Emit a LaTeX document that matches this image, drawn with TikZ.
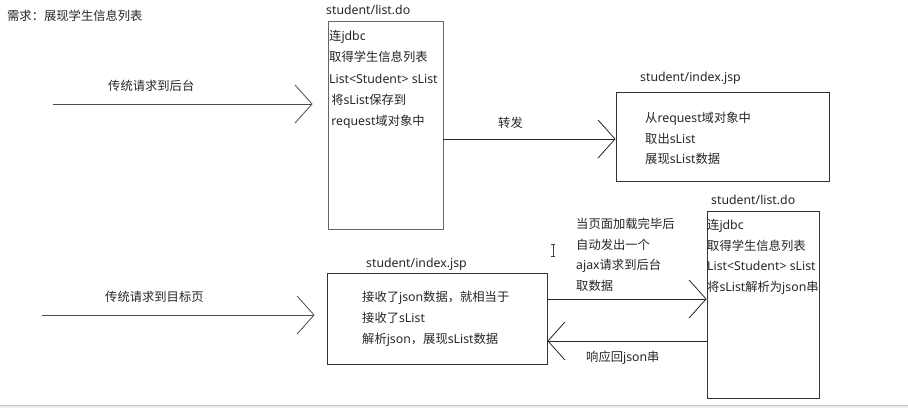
\documentclass[tikz,border=0pt]{standalone}
\usepackage{fontspec}
\setmainfont{Noto Sans CJK SC}
\newfontfamily\lat{Noto Sans}
\usetikzlibrary{arrows.meta}
\tikzset{
  x=1pt, y=-1pt,
  txt/.style={anchor=base west, inner sep=0pt, text=black!85,
    font=\fontsize{12.3}{15}\selectfont},
  box/.style={draw=black!80, line width=0.8pt, inner sep=0pt},
  arr/.style={draw=black!85, line width=0.8pt,
    -{Straight Barb[length=17pt,width=38pt]}},
}
\newcommand{\lt}[1]{{\lat #1}}
\begin{document}
\begin{tikzpicture}
\useasboundingbox (0,0) rectangle (908,408);
\fill[white] (0,0) rectangle (908,408);
\fill[black!6] (0,405) rectangle (908,408);
\draw[black!25, line width=0.8pt] (0,405) -- (908,405);

% title
\node[txt] (title) at (7,20.5) {需求：展现学生信息列表};

% boxes
\node[box, draw=black!60, minimum width=115pt, minimum height=208pt] (srvA) at (385.5,125) {};
\node[box, minimum width=213pt, minimum height=89pt] (jspB) at (722.5,136.5) {};
\node[box, minimum width=112pt, minimum height=187pt] (srvC) at (763,304.5) {};
\node[box, minimum width=220pt, minimum height=91pt] (jspD) at (437,318.5) {};

% box titles
\node[txt] (tA) at (326,14.5) {\lt{student/list.do}};
\node[txt] (tB) at (640,81.5) {\lt{student/index.jsp}};
\node[txt] (tC) at (711,204.5) {\lt{student/list.do}};
\node[txt] (tD) at (366,267.5) {\lt{student/index.jsp}};

% box contents
\foreach \t [count=\i] in {{连\lt{jdbc}}, {取得学生信息列表}, {\lt{List<Student> sList}}, {\,将\lt{sList}保存到}, {\,\lt{request}域对象中}}
  \node[txt] (a\i) at (329, 40.5+21.25*\i-21.25) {\t};
\foreach \t [count=\i] in {{从\lt{request}域对象中}, {取出\lt{sList}}, {展现\lt{sList}数据}}
  \node[txt] (b\i) at (645, 122.5+20.5*\i-20.5) {\t};
\foreach \t [count=\i] in {{连\lt{jdbc}}, {取得学生信息列表}, {\lt{List<Student> sList}}, {将\lt{sList}解析为\lt{json}串}}
  \node[txt] (c\i) at (707, 229.5+20.7*\i-20.7) {\t};
\foreach \t [count=\i] in {{接收了\lt{json}数据，就相当于}, {接收了\lt{sList}}, {解析\lt{json}，展现\lt{sList}数据}}
  \node[txt] (d\i) at (362, 301.5+21*\i-21) {\t};

% connectors
\coordinate (s1) at (53,104);
\draw[arr, draw=black!70, shorten >=15pt] (s1) -- (s1 -| srvA.west);
\node[txt] (l1) at (108,90.5) {传统请求到后台};

\coordinate (y2) at (0,139);
\draw[arr] (srvA.east |- y2) -- (jspB.west |- y2);
\node[txt] (l2) at (498,127.5) {转发};

\coordinate (s3) at (42,315);
\draw[arr, draw=black!70, shorten >=12pt] (s3) -- (s3 -| jspD.west);
\node[txt] (l3) at (105,301.5) {传统请求到目标页};

\coordinate (y4) at (0,299);
\draw[arr] (jspD.east |- y4) -- (srvC.west |- y4);
\foreach \t [count=\i] in {{当页面加载完毕后}, {自动发出一个}, {\lt{ajax}请求到后台}, {取数据}}
  \node[txt] (m\i) at (576, 228.5+20.7*\i-20.7) {\t};

\coordinate (y5) at (0,341);
\draw[arr] (srvC.west |- y5) -- (jspD.east |- y5);
\node[txt] (l5) at (586,361.5) {响应回\lt{json}串};

% text cursor
\draw[black!75, line width=0.7pt] (553,244) -- (553,256)
  (551,244) -- (555,244) (551,256) -- (555,256);
\end{tikzpicture}
\end{document}
